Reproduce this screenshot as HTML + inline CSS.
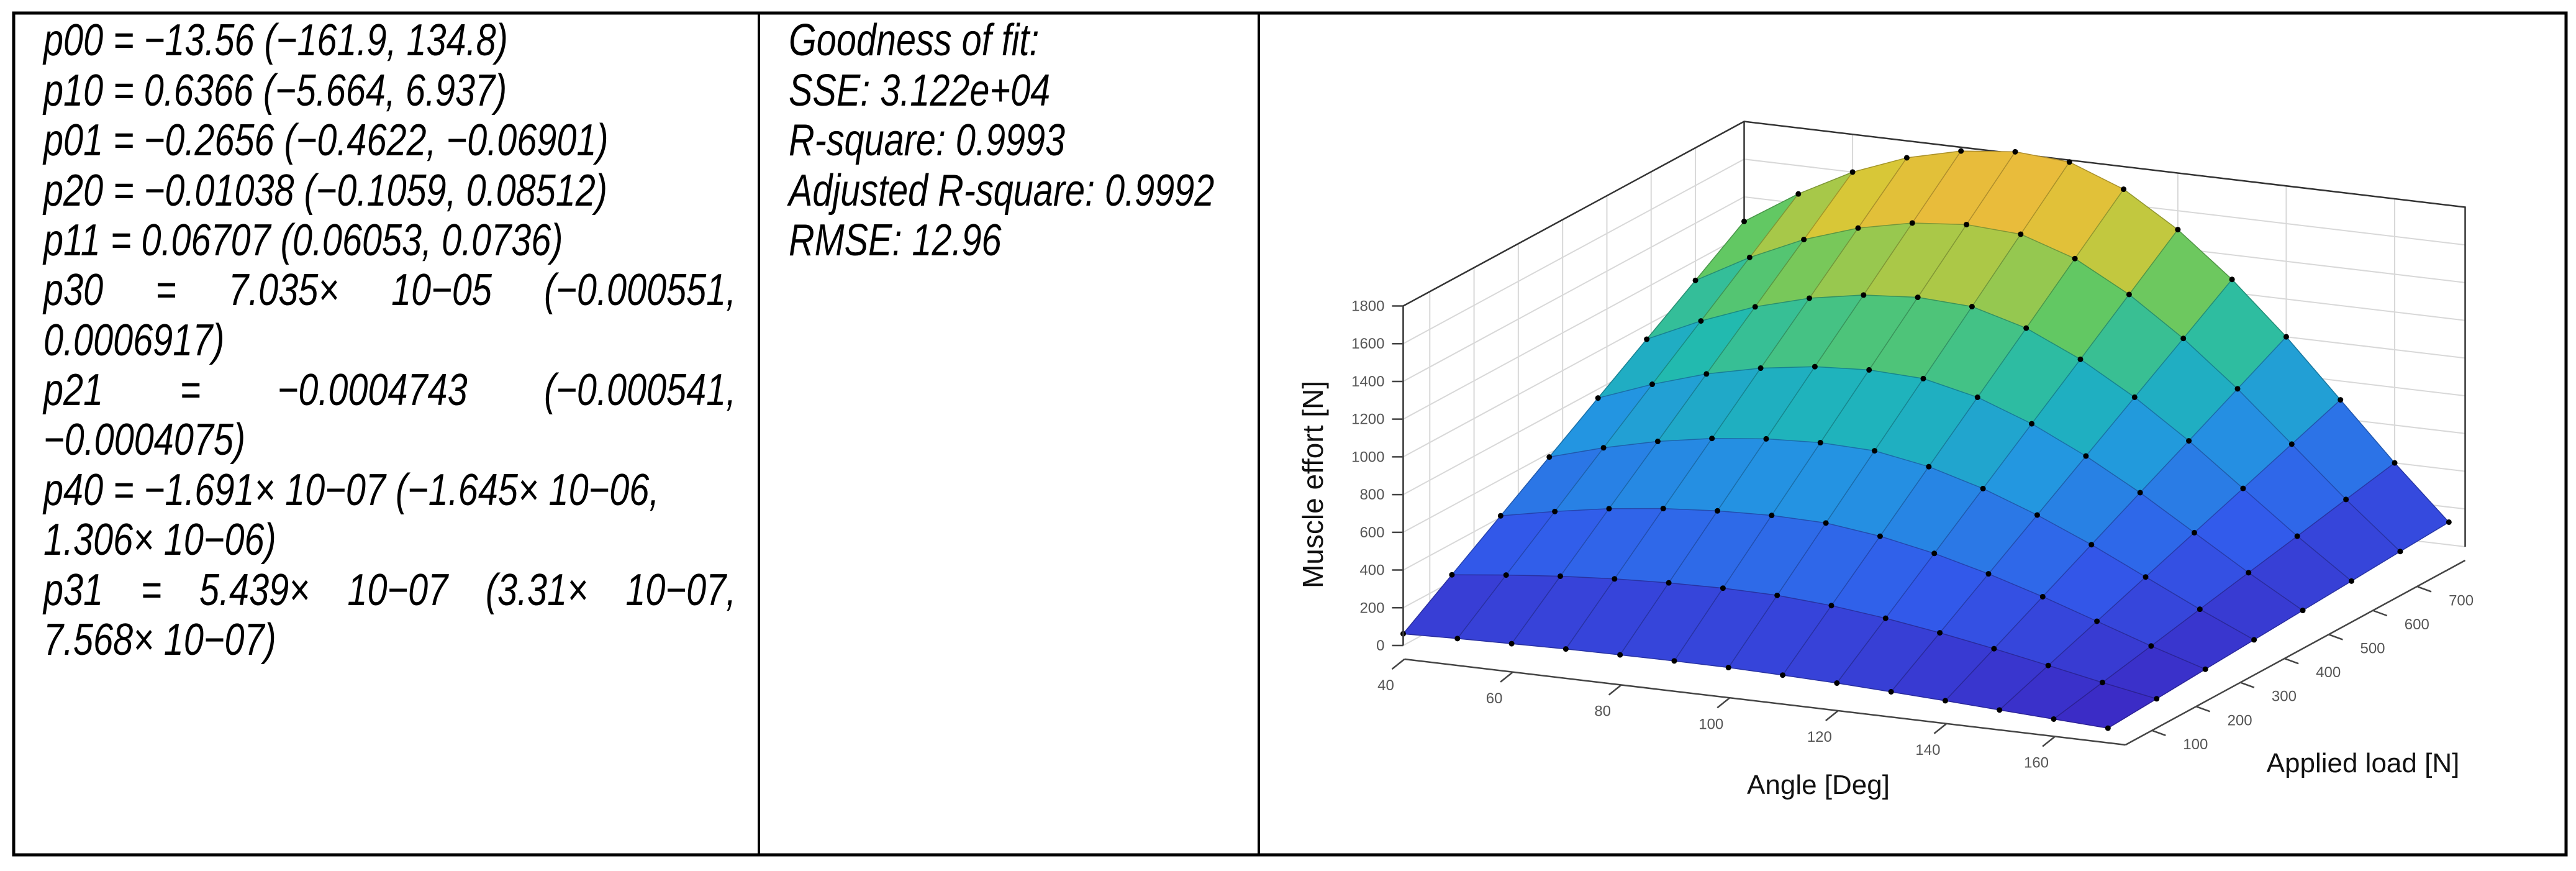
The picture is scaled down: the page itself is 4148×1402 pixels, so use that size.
<!DOCTYPE html>
<html><head><meta charset="utf-8"><style>
html,body{margin:0;padding:0;background:#fff}
#page{position:relative;width:4148px;height:1402px;overflow:hidden;background:#fff}
.ln{position:absolute;font-family:"Liberation Sans",sans-serif;font-style:italic;font-size:72px;line-height:80px;color:#000;white-space:nowrap;transform-origin:0 50%;transform:scaleX(0.8)}
.j{display:flex;justify-content:space-between;width:1394px}
</style></head><body>
<div id="page">
<svg width="4148" height="1402" style="position:absolute;left:0;top:0">
<rect x="22" y="21" width="4110" height="1355" fill="none" stroke="#000" stroke-width="5"/>
<line x1="1222" y1="21" x2="1222" y2="1376" stroke="#000" stroke-width="4"/>
<line x1="2027" y1="21" x2="2027" y2="1376" stroke="#000" stroke-width="4"/>
</svg>
<div>
<div class="ln" style="left:70px;top:25px">p00 = −13.56 (−161.9, 134.8)</div>
<div class="ln" style="left:70px;top:106px">p10 = 0.6366 (−5.664, 6.937)</div>
<div class="ln" style="left:70px;top:186px">p01 = −0.2656 (−0.4622, −0.06901)</div>
<div class="ln" style="left:70px;top:267px">p20 = −0.01038 (−0.1059, 0.08512)</div>
<div class="ln" style="left:70px;top:347px">p11 = 0.06707 (0.06053, 0.0736)</div>
<div class="ln j" style="left:70px;top:427px"><span>p30</span><span>=</span><span>7.035×</span><span>10−05</span><span>(−0.000551,</span></div>
<div class="ln" style="left:70px;top:508px">0.0006917)</div>
<div class="ln j" style="left:70px;top:588px"><span>p21</span><span>=</span><span>−0.0004743</span><span>(−0.000541,</span></div>
<div class="ln" style="left:70px;top:668px">−0.0004075)</div>
<div class="ln" style="left:70px;top:749px">p40 = −1.691× 10−07 (−1.645× 10−06,</div>
<div class="ln" style="left:70px;top:829px">1.306× 10−06)</div>
<div class="ln j" style="left:70px;top:910px"><span>p31</span><span>=</span><span>5.439×</span><span>10−07</span><span>(3.31×</span><span>10−07,</span></div>
<div class="ln" style="left:70px;top:990px">7.568× 10−07)</div>
</div>
<div>
<div class="ln" style="left:1270px;top:25px">Goodness of fit:</div>
<div class="ln" style="left:1270px;top:106px">SSE: 3.122e+04</div>
<div class="ln" style="left:1270px;top:186px">R-square: 0.9993</div>
<div class="ln" style="left:1270px;top:267px">Adjusted R-square: 0.9992</div>
<div class="ln" style="left:1270px;top:347px">RMSE: 12.96</div>
</div>
<svg id="chart" width="4148" height="1402" style="position:absolute;left:0;top:0"></svg>
</div>
<script>
const angles = [40,50,60,70,80,90,100,110,120,130,140,150,160,170];
const loads = [40,150,260,370,480,590,700,810];
const effort = [
 [62,71,78,84,87,89,88,82,74,62,49,34,20,6],
 [235,268,296,316,329,335,331,311,278,235,185,130,74,22],
 [408,465,514,549,571,581,575,539,482,408,321,225,128,39],
 [580,663,731,781,813,827,818,768,686,580,457,320,183,55],
 [753,860,949,1014,1056,1073,1061,996,890,753,593,415,237,71],
 [925,1056,1165,1245,1296,1318,1303,1223,1092,925,728,510,291,87],
 [1097,1253,1382,1477,1538,1564,1547,1452,1296,1097,864,605,346,104],
 [1270,1450,1600,1710,1780,1810,1790,1680,1500,1270,1000,700,400,120]
];
const zTicks = [0,200,400,600,800,1000,1200,1400,1600,1800];
const angleTicks = [40,60,80,100,120,140,160];
const loadTicks = [100,200,300,400,500,600,700];

const A0=40,A1=173,L0=40,L1=810,Z1=1800;
const O=[2259.5,1039], EA=[1161,138], EL=[549,-297], EZ=546.5;
function P(a,l,z){const fa=(a-A0)/(A1-A0), fl=(l-L0)/(L1-L0);
 return [O[0]+fa*EA[0]+fl*EL[0], O[1]+fa*EA[1]+fl*EL[1]-z/Z1*EZ];}
const svg=document.getElementById('chart');
const NS='http://www.w3.org/2000/svg';
function mk(tag,at,parent){const e=document.createElementNS(NS,tag);for(const k in at)e.setAttribute(k,at[k]);(parent||svg).appendChild(e);return e;}
function pts(arr){return arr.map(p=>p[0].toFixed(1)+','+p[1].toFixed(1)).join(' ');}
const stops=[[0,[60,40,195]],[0.2,[50,90,235]],[0.4,[35,150,225]],[0.55,[30,185,180]],[0.7,[95,200,100]],[0.85,[215,200,55]],[1,[247,178,62]]];
function col(z){let t=Math.max(0,Math.min(1,z/Z1));for(let i=1;i<stops.length;i++){if(t<=stops[i][0]){const a=stops[i-1],b=stops[i],u=(t-a[0])/(b[0]-a[0]);return 'rgb('+a[1].map((c,k)=>Math.round(c+(b[1][k]-c)*u)).join(',')+')';}}return 'rgb(247,178,62)';}

const grid=mk('g',{stroke:'#d8d8d8','stroke-width':2,fill:'none'});


zTicks.forEach(z=>{const a=P(A0,L0,z),b=P(A0,L1,z),c=P(A1,L1,z);mk('polyline',{points:pts([a,b,c])},grid);});
angleTicks.forEach(a=>{const p=P(a,L1,0),q=P(a,L1,Z1);mk('line',{x1:p[0],y1:p[1],x2:q[0],y2:q[1]},grid);});
loadTicks.forEach(l=>{const p=P(A0,l,0),q=P(A0,l,Z1);mk('line',{x1:p[0],y1:p[1],x2:q[0],y2:q[1]},grid);});
const box=mk('g',{stroke:'#333','stroke-width':2.5,fill:'none'});


mk('polyline',{points:pts([P(A0,L0,0),P(A0,L0,Z1),P(A0,L1,Z1),P(A1,L1,Z1),P(A1,L1,0)])},box);
mk('line',{x1:P(A0,L1,0)[0],y1:P(A0,L1,0)[1],x2:P(A0,L1,Z1)[0],y2:P(A0,L1,Z1)[1]},box);

const surf=mk('g',{});


for(let j=loads.length-2;j>=0;j--){for(let i=0;i<angles.length-1;i++){
 const q=[P(angles[i],loads[j],effort[j][i]),P(angles[i+1],loads[j],effort[j][i+1]),P(angles[i+1],loads[j+1],effort[j+1][i+1]),P(angles[i],loads[j+1],effort[j+1][i])];
 const zm=(effort[j][i]+effort[j][i+1]+effort[j+1][i+1]+effort[j+1][i])/4;
 const c=mk('polygon',{points:pts(q),fill:col(zm),stroke:col(zm),'stroke-width':1.5},surf);
 
 
}}
const mesh=mk('g',{stroke:'rgba(0,0,0,0.25)','stroke-width':1.5,fill:'none'});


loads.forEach((l,j)=>mk('polyline',{points:pts(angles.map((a,i)=>P(a,l,effort[j][i])))},mesh));
angles.forEach((a,i)=>mk('polyline',{points:pts(loads.map((l,j)=>P(a,l,effort[j][i])))},mesh));
const dots=mk('g',{fill:'#000'});


for(let j=0;j<loads.length;j++)for(let i=0;i<angles.length;i++){const p=P(angles[i],loads[j],effort[j][i]);
 const d=mk('circle',{cx:p[0],cy:p[1],r:4.5},dots);
 
 }

const ax=mk('g',{stroke:'#444','stroke-width':2.5,fill:'none'});


const zb=P(A0,L0,0),zt=P(A0,L0,Z1);
mk('line',{x1:zb[0],y1:zb[1],x2:zt[0],y2:zt[1]},ax);
const off=[2,22];
const a0=P(A0,L0,0),a1=P(A1,L0,0);
mk('line',{x1:a0[0]+off[0],y1:a0[1]+off[1],x2:a1[0]+off[0],y2:a1[1]+off[1]},ax);
const l1=P(A1,L1,0);
mk('line',{x1:a1[0]+off[0],y1:a1[1]+off[1],x2:l1[0],y2:l1[1]+22},ax);
const tk=mk('g',{fill:'#555','font-family':'"Liberation Sans",sans-serif','font-size':24});


zTicks.forEach(z=>{const p=P(A0,L0,z);mk('line',{x1:p[0]-18,y1:p[1],x2:p[0],y2:p[1],stroke:'#444','stroke-width':2.5},tk);
 const t=mk('text',{x:p[0]-30,y:p[1]+8,'text-anchor':'end'},tk);t.textContent=z;
 
 });
angleTicks.forEach(a=>{const p=P(a,L0,0);const x=p[0]+off[0],y=p[1]+off[1];
 mk('line',{x1:x,y1:y,x2:x-20,y2:y+16,stroke:'#444','stroke-width':2.5},tk);
 const t=mk('text',{x:x-30,y:y+50,'text-anchor':'middle'},tk);t.textContent=a;
 
 });
loadTicks.forEach(l=>{const p=P(A1,l,0);const x=p[0]+off[0],y=p[1]+off[1];
 mk('line',{x1:x,y1:y,x2:x+22,y2:y+8,stroke:'#444','stroke-width':2.5},tk);
 const t=mk('text',{x:x+50,y:y+30,'text-anchor':'start'},tk);t.textContent=l;
 
 });
const tt=mk('g',{fill:'#111','font-family':'"Liberation Sans",sans-serif'});


let t=mk('text',{x:2130,y:780,'font-size':46,'text-anchor':'middle',transform:'rotate(-90 2130 780)'},tt);t.textContent='Muscle effort [N]';

t=mk('text',{x:2928,y:1278,'font-size':44,'text-anchor':'middle'},tt);t.textContent='Angle [Deg]';

t=mk('text',{x:3805,y:1243,'font-size':44,'text-anchor':'middle'},tt);t.textContent='Applied load [N]';

</script>
</body></html>
